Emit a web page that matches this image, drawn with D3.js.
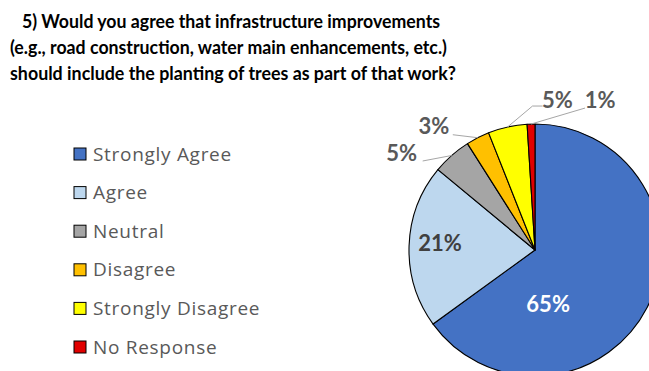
<!DOCTYPE html>
<html>
<head>
<meta charset="utf-8">
<script src="https://cdn.jsdelivr.net/npm/d3@7"></script>
<style>
  html, body { margin: 0; padding: 0; background: #fff; }
  svg { display: block; }
</style>
</head>
<body>
<svg id="chart" width="649" height="371"></svg>
<script>
// Survey question 5: response shares
const titleLines = [
  "5) Would you agree that infrastructure improvements",
  "(e.g., road construction, water main enhancements, etc.)",
  "should include the planting of trees as part of that work?"
];
const categories = ["Strongly Agree", "Agree", "Neutral", "Disagree", "Strongly Disagree", "No Response"];
const percents = [65, 21, 5, 3, 5, 1];
const colors = ["#4472C4", "#BDD7EE", "#A5A5A5", "#FFC000", "#FFFF00", "#E00000"];

const svg = d3.select("#chart");

// Title
const titleFont = "Lato, 'Open Sans', sans-serif";
const titleX = [22, 10, 10], titleW = [418, 437, 446];
svg.append("g").selectAll("text")
  .data(titleLines)
  .join("text")
  .attr("x", (d, i) => titleX[i])
  .attr("y", (d, i) => 28 + i * 26)
  .attr("textLength", (d, i) => titleW[i])
  .attr("lengthAdjust", "spacingAndGlyphs")
  .attr("font-family", titleFont)
  .attr("font-weight", 700)
  .attr("font-size", 19.5)
  .attr("fill", "#000")
  .text(d => d);

// Legend
const legendY = d3.scalePoint().domain(categories).range([154, 347]);
const rows = svg.append("g").selectAll("g")
  .data(categories)
  .join("g")
  .attr("transform", d => `translate(74, ${legendY(d)})`);
rows.append("rect")
  .attr("x", 0).attr("y", -6)
  .attr("width", 12).attr("height", 12)
  .attr("fill", (d, i) => colors[i])
  .attr("stroke", "#000").attr("stroke-width", 1);
rows.append("text")
  .attr("x", 19).attr("y", 6.5)
  .attr("font-family", "'Open Sans', Lato, sans-serif")
  .attr("font-size", 19)
  .attr("letter-spacing", 0.7)
  .attr("fill", "#595959")
  .text(d => d);

// Pie, clockwise from twelve o'clock
const cx = 535, cy = 250, R = 126;
const pie = d3.pie().sort(null).value(d => d).startAngle(0).endAngle(2 * Math.PI);
const arcs = pie(percents);
const arc = d3.arc().innerRadius(0).outerRadius(R);
const g = svg.append("g").attr("transform", `translate(${cx},${cy})`);
g.selectAll("path")
  .data(arcs)
  .join("path")
  .attr("d", arc)
  .attr("fill", (d, i) => colors[i])
  .attr("stroke", "#000")
  .attr("stroke-width", 1.1)
  .attr("stroke-linejoin", "round");

// Data labels
const labelFont = "Lato, 'Open Sans', sans-serif";
const labelColor = ["#ffffff", "#404040", "#595959", "#595959", "#595959", "#595959"];
// inside labels: shift from the slice centroid
const insideShift = {0: [-43, 25], 1: [-32, -5]};
// outside labels: label centre relative to the slice's outer arc point,
// and leader-line bend points relative to the label centre
const outerOffset = {2: [-50, -3], 3: [-44, -12], 4: [50, -27], 5: [69, -24]};
const leaderPts = {2: [[21, 8.5]], 3: [[19, 9]], 4: [[-15, 6], [-25, 6]], 5: [[-15, 8]]};

const outerPoint = d => {
  const a = (d.startAngle + d.endAngle) / 2;
  return [R * Math.sin(a), -R * Math.cos(a)];
};

function addLabel(x, y, i) {
  g.append("text")
    .attr("x", x)
    .attr("y", y + 8)
    .attr("text-anchor", "middle")
    .attr("font-family", labelFont)
    .attr("font-weight", 700)
    .attr("font-size", 22)
    .attr("fill", labelColor[i])
    .text(percents[i] + "%");
}

arcs.forEach((d, i) => {
  if (i in insideShift) {
    const c = arc.centroid(d);
    addLabel(c[0] + insideShift[i][0], c[1] + insideShift[i][1], i);
  } else {
    const p = outerPoint(d);
    const lx = p[0] + outerOffset[i][0], ly = p[1] + outerOffset[i][1];
    const pts = leaderPts[i].map(q => [lx + q[0], ly + q[1]]).concat([p]);
    g.append("polyline")
      .attr("points", pts.map(q => q.join(",")).join(" "))
      .attr("fill", "none")
      .attr("stroke", "#a6a6a6")
      .attr("stroke-width", 1);
    addLabel(lx, ly, i);
  }
});
</script>
</body>
</html>
